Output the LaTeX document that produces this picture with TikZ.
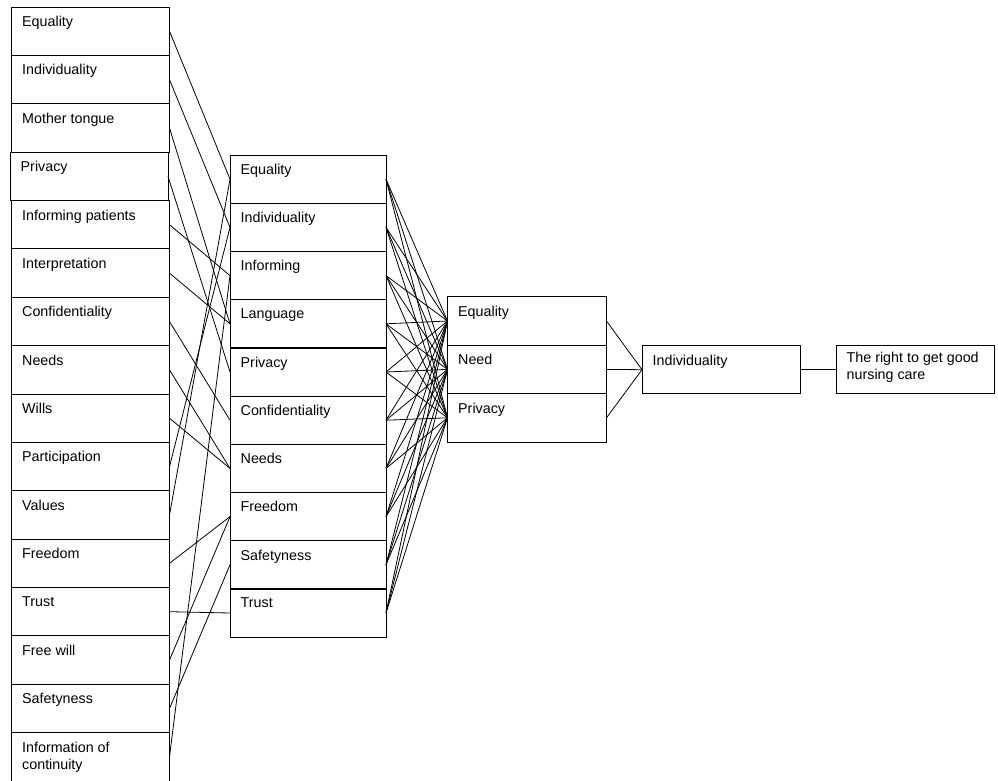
\documentclass[tikz,border=0pt]{standalone}
\usepackage{fontspec}
\setmainfont{Liberation Sans}
\begin{document}
\begin{tikzpicture}[x=1pt,y=-1pt,
  box/.style={draw, line width=0.9pt, minimum width=158pt, minimum height=48.4pt,
    inner sep=0pt, outer sep=0pt, anchor=north west},
  lbl/.style={anchor=north west, inner sep=0pt, xshift=10.5pt, yshift=-9pt,
    font=\fontsize{14.3}{17}\selectfont, align=left},
  conn/.style={line width=0.8pt}]
\useasboundingbox (0,0) rectangle (998,781);
% left column
\node[box, label={[lbl]north west:Equality}] (l1) at (11.5,7) {};
\node[box, label={[lbl]north west:Individuality}] (l2) at (11.5,55.4) {};
\node[box, label={[lbl]north west:Mother tongue}] (l3) at (11.5,103.8) {};
\node[box, label={[lbl]north west:Privacy}] (l4) at (10,152.1) {};
\node[box, label={[lbl]north west:Informing patients}] (l5) at (11.5,200.5) {};
\node[box, label={[lbl]north west:Interpretation}] (l6) at (11.5,248.9) {};
\node[box, label={[lbl]north west:Confidentiality}] (l7) at (11.5,297.3) {};
\node[box, label={[lbl]north west:Needs}] (l8) at (11.5,345.6) {};
\node[box, label={[lbl]north west:Wills}] (l9) at (11.5,394) {};
\node[box, label={[lbl]north west:Participation}] (l10) at (11.5,442.4) {};
\node[box, label={[lbl]north west:Values}] (l11) at (11.5,490.8) {};
\node[box, label={[lbl]north west:Freedom}] (l12) at (11.5,539.1) {};
\node[box, label={[lbl]north west:Trust}] (l13) at (11.5,587.5) {};
\node[box, label={[lbl]north west:Free will}] (l14) at (11.5,635.9) {};
\node[box, label={[lbl]north west:Safetyness}] (l15) at (11.5,684.3) {};
\node[box, label={[lbl]north west:{Information of\\continuity}}] (l16) at (11.5,732.6) {};
% middle column
\node[box, minimum width=156pt, label={[lbl]north west:Equality}] (m1) at (230,155) {};
\node[box, minimum width=156pt, label={[lbl]north west:Individuality}] (m2) at (230,203.2) {};
\node[box, minimum width=156pt, label={[lbl]north west:Informing}] (m3) at (230,251.4) {};
\node[box, minimum width=156pt, label={[lbl]north west:Language}] (m4) at (230,299.6) {};
\node[box, minimum width=156pt, label={[lbl]north west:Privacy}] (m5) at (230,347.8) {};
\node[box, minimum width=156pt, label={[lbl]north west:Confidentiality}] (m6) at (230,396) {};
\node[box, minimum width=156pt, label={[lbl]north west:Needs}] (m7) at (230,444.2) {};
\node[box, minimum width=156pt, label={[lbl]north west:Freedom}] (m8) at (230,492.4) {};
\node[box, minimum width=156pt, label={[lbl]north west:Safetyness}] (m9) at (230,540.6) {};
\node[box, minimum width=156pt, label={[lbl]north west:Trust}] (m10) at (230,588.8) {};
% third column
\node[box, minimum width=159pt, label={[lbl]north west:Equality}] (t1) at (447.5,296.8) {};
\node[box, minimum width=159pt, label={[lbl]north west:Need}] (t2) at (447.5,345.2) {};
\node[box, minimum width=159pt, label={[lbl]north west:Privacy}] (t3) at (447.5,393.6) {};
% fourth and fifth
\node[box, label={[lbl]north west:Individuality}] (ind) at (642,345.5) {};
\node[box, label={[lbl,yshift=3pt]north west:{The right to get good\\nursing care}}] (goal) at (836,345.5) {};
% connectors left -> middle
\draw[conn] (l1.east) -- (m1.west);
\draw[conn] (l2.east) -- (m2.west);
\draw[conn] (l3.east) -- (m4.west);
\draw[conn] (l4.east) -- (m5.west);
\draw[conn] (l5.east) -- (m3.west);
\draw[conn] (l6.east) -- (m4.west);
\draw[conn] (l7.east) -- (m6.west);
\draw[conn] (l8.east) -- (m7.west);
\draw[conn] (l9.east) -- (m7.west);
\draw[conn] (l10.east) -- (m2.west);
\draw[conn] (l11.east) -- (m1.west);
\draw[conn] (l12.east) -- (m8.west);
\draw[conn] (l13.east) -- (m10.west);
\draw[conn] (l14.east) -- (m8.west);
\draw[conn] (l15.east) -- (m9.west);
\draw[conn] (l16.east) -- (m3.west);
% middle -> third
\foreach \a in {1,...,10} {
  \foreach \b in {1,2,3} {
    \draw[conn] (m\a.east) -- (t\b.west);
  }
}
% third -> individuality -> goal
\foreach \b in {1,2,3} { \draw[conn] (t\b.east) -- (ind.west); }
\draw[conn] (ind.east) -- (goal.west);
\end{tikzpicture}
\end{document}
